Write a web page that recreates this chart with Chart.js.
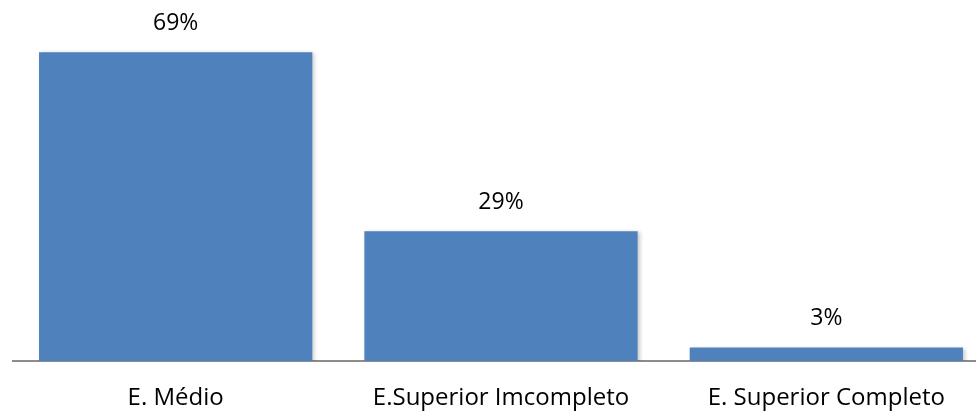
<!DOCTYPE html>
<html><head><meta charset="utf-8">
<script src="https://cdn.jsdelivr.net/npm/chart.js@4/dist/chart.umd.min.js"></script>
<style>
html,body{margin:0;padding:0;background:#fff;overflow:hidden;width:976px;height:416px}
#wrap{position:absolute;left:0;top:0;width:990px;height:416px}
</style></head>
<body><div id="wrap"><canvas id="c"></canvas></div>
<script>
const categories = ['E. Médio', 'E.Superior Imcompleto', 'E. Superior Completo'];
const values = [69, 29, 3];
const valueLabels = ['69%', '29%', '3%'];

const dataLabelPlugin = {
  id: 'dataLabels',
  afterDatasetsDraw(chart) {
    const ctx = chart.ctx;
    const meta = chart.getDatasetMeta(0);
    ctx.save();
    ctx.fillStyle = '#000';
    ctx.font = '23px "Open Sans", sans-serif';
    ctx.textAlign = 'center';
    ctx.textBaseline = 'middle';
    meta.data.forEach((bar, i) => {
      ctx.fillText(valueLabels[i], bar.x, bar.y - 29);
    });
    ctx.restore();
  }
};
const shadowPlugin = {
  id: 'barShadow',
  beforeDatasetsDraw(chart) {
    const ctx = chart.ctx;
    ctx.save();
    ctx.shadowColor = 'rgba(0,0,0,0.22)';
    ctx.shadowBlur = 4;
    ctx.shadowOffsetX = 2;
    ctx.shadowOffsetY = 1;
  },
  afterDatasetsDraw(chart) { chart.ctx.restore(); }
};

new Chart(document.getElementById('c'), {
  type: 'bar',
  data: {
    labels: categories,
    datasets: [{
      data: values,
      backgroundColor: '#4F81BD',
      borderWidth: 0,
      barPercentage: 0.84,
      categoryPercentage: 1.0
    }]
  },
  options: {
    responsive: true,
    maintainAspectRatio: false,
    animation: false,
    layout: { padding: { left: 13, right: 1, top: 3, bottom: 0 } },
    plugins: { legend: { display: false }, tooltip: { enabled: false } },
    scales: {
      y: { display: false, min: 0, max: 80 },
      x: {
        grid: { display: false },
        border: { display: true, color: '#8c8c8c', width: 2 },
        ticks: { color: '#000', padding: 15, font: { family: '"Open Sans", sans-serif', size: 24 } },
        afterFit(scale) { scale.height = 55; }
      }
    }
  },
  plugins: [shadowPlugin, dataLabelPlugin]
});
</script></body></html>
